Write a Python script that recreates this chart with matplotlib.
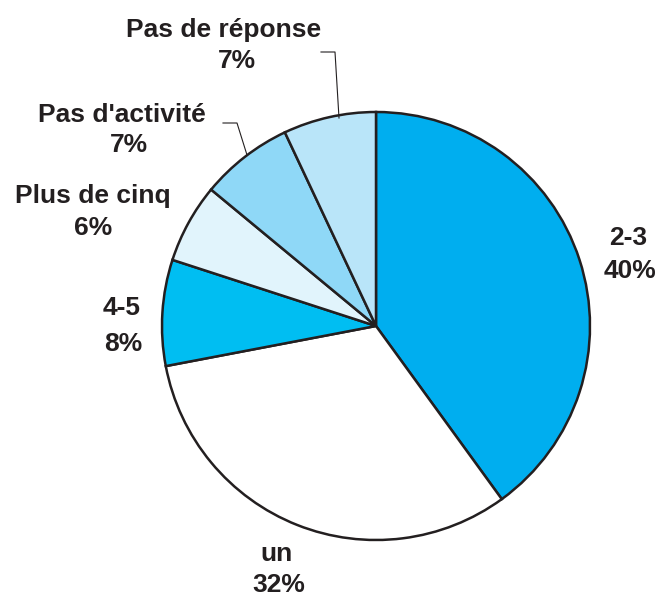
import matplotlib.pyplot as plt

# data, clockwise from 12 o'clock
labels = ['2-3', 'un', '4-5', 'Plus de cinq', "Pas d'activité", 'Pas de réponse']
values = [40, 32, 8, 6, 7, 7]
colors = ['#00AEEF', '#FFFFFF', '#00BEF2', '#E1F4FC', '#8FD8F7', '#B9E5F9']

# label placement in pixels from top-left: (name x, name baseline, pct x, pct baseline)
label_pos = [(628, 245, 630, 278),
             (277, 561, 279, 592),
             (122, 315, 123, 351),
             (93, 203, 93, 235),
             (122, 122, 129, 152),
             (224, 37, 237, 68)]

plt.rcParams['font.family'] = ['Liberation Sans', 'DejaVu Sans']
ink = '#231F20'

fig = plt.figure(figsize=(6.59, 5.98), dpi=100)
ax = fig.add_axes([0, 0, 1, 1])

H = 598
ax.pie(values, colors=colors, startangle=90, counterclock=False,
       center=(376, H - 326), radius=214,
       wedgeprops=dict(edgecolor=ink, linewidth=1.8))

# pie() resets the view, so set limits afterwards
ax.set_xlim(0, 659)
ax.set_ylim(0, 598)
ax.set_aspect('equal')
ax.axis('off')

for lab, v, (x1, y1, x2, y2) in zip(labels, values, label_pos):
    ax.text(x1, H - y1, lab, ha='center', va='baseline',
            fontsize=19, fontweight='bold', color=ink)
    ax.text(x2, H - y2, f'{v}%', ha='center', va='baseline',
            fontsize=19, fontweight='bold', color=ink)

# leader lines
ax.plot([321, 335, 339], [H - 52, H - 52, H - 118], color=ink, lw=0.8)
ax.plot([223, 237, 247], [H - 123, H - 123, H - 155], color=ink, lw=0.8)

fig.savefig('out.png', dpi=100)
